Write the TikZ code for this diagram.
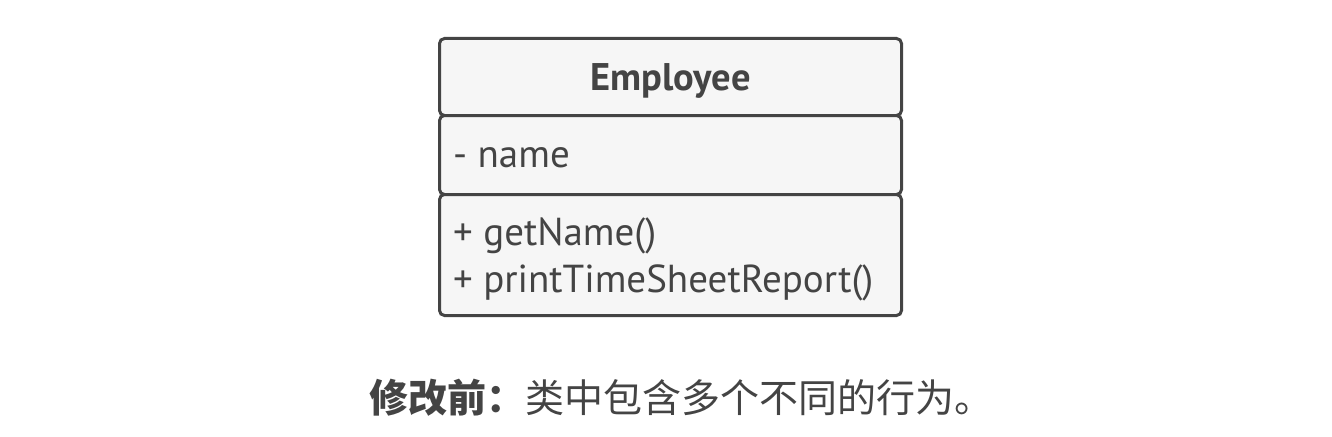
\documentclass[tikz,border=0pt]{standalone}
\usepackage{fontspec}
\setmainfont{PT Sans}
\newfontfamily\cjk{Noto Sans CJK SC}
\definecolor{ink}{HTML}{444444}
\definecolor{paper}{HTML}{F6F6F6}
\begin{document}
\begin{tikzpicture}[x=1pt,y=-1pt,
  compartment/.style={draw=ink, fill=paper, line width=3pt, rounded corners=5pt, inner sep=0pt, minimum width=462pt},
  member/.style={text=ink, inner sep=0pt, anchor=base west, font=\fontsize{39}{47}\selectfont},
  caption/.style={text=ink, inner sep=0pt, font=\fontsize{39}{47}\selectfont\cjk}]
\useasboundingbox (0,0) rectangle (1332,436);
\node[compartment, minimum height=77pt] (head) at (670.5,77) {};
\node[compartment, minimum height=79pt] (attrs) at (670.5,155) {};
\node[compartment, minimum height=121pt] (ops) at (670.5,255) {};
\node[member, anchor=base, font=\fontsize{38.5}{47}\selectfont\bfseries] (title) at (670.5,90) {Employee};
\node[member] (name) at (453,167) {- name};
\node[member] (getname) at (453,245) {+ getName()};
\node[member] (report) at (453,292) {+ printTimeSheetReport()};
\node[caption] (cap) at (681,398) {{\bfseries 修改前：}类中包含多个不同的行为。};
\end{tikzpicture}
\end{document}
